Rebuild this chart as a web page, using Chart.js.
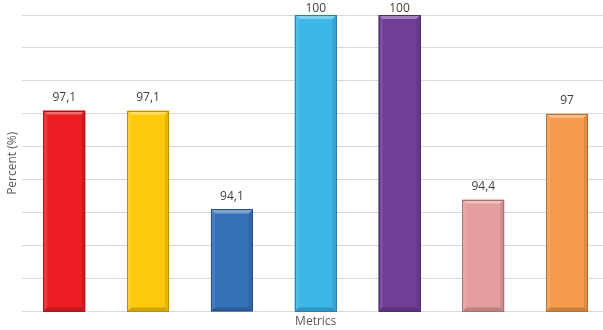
<!DOCTYPE html>
<html>
<head>
<meta charset="utf-8">
<script src="https://cdn.jsdelivr.net/npm/chart.js@4"></script>
<style>
html,body{margin:0;padding:0;background:#fff;overflow:hidden;}
#wrap{width:609px;height:330px;position:relative;}
</style>
</head>
<body>
<div id="wrap"><canvas id="c" width="609" height="330"></canvas></div>
<script>
const categories = ["M1","M2","M3","M4","M5","M6","M7"];
const values = [97.1, 97.1, 94.1, 100, 100, 94.4, 97];
const valueLabels = ["97,1","97,1","94,1","100","100","94,4","97"];
const barColors = ["#ED1D24","#FDC90C","#3670B8","#3DB6E8","#713E98","#E59E9E","#F59C4C"];
const yMin = 91, yMax = 100, yStep = 1;

function shade(hex, amt){
  const n = parseInt(hex.slice(1),16);
  let r=(n>>16)&255,g=(n>>8)&255,b=n&255;
  const f = v => Math.max(0,Math.min(255,Math.round(amt>0? v+(255-v)*amt : v*(1+amt))));
  return `rgb(${f(r)},${f(g)},${f(b)})`;
}

const bevel = {
  id:'bevel',
  afterDatasetsDraw(chart){
    const ctx = chart.ctx;
    const area = chart.chartArea;
    const meta = chart.getDatasetMeta(0);
    meta.data.forEach((bar,i)=>{
      const c = barColors[i];
      const x0 = bar.x - bar.width/2, x1 = bar.x + bar.width/2;
      const top = bar.y, bot = Math.min(bar.base, area.bottom);
      const d = 4;
      ctx.save();
      ctx.fillStyle = shade(c,0.35);
      ctx.beginPath();
      ctx.moveTo(x0,top);ctx.lineTo(x1,top);ctx.lineTo(x1-d,top+d);ctx.lineTo(x0+d,top+d);ctx.closePath();ctx.fill();
      ctx.fillStyle = shade(c,0.1);
      ctx.beginPath();
      ctx.moveTo(x0,top);ctx.lineTo(x0+d,top+d);ctx.lineTo(x0+d,bot-d);ctx.lineTo(x0,bot);ctx.closePath();ctx.fill();
      ctx.fillStyle = shade(c,-0.1);
      ctx.beginPath();
      ctx.moveTo(x1,top);ctx.lineTo(x1-d,top+d);ctx.lineTo(x1-d,bot-d);ctx.lineTo(x1,bot);ctx.closePath();ctx.fill();
      ctx.fillStyle = shade(c,-0.18);
      ctx.beginPath();
      ctx.moveTo(x0,bot);ctx.lineTo(x0+d,bot-d);ctx.lineTo(x1-d,bot-d);ctx.lineTo(x1,bot);ctx.closePath();ctx.fill();
      ctx.strokeStyle = shade(c,-0.28);
      ctx.lineWidth = 1;
      ctx.strokeRect(Math.round(x0)+0.5, Math.round(top)+0.5, Math.round(x1-x0)-1, Math.round(bot-top)-1);
      ctx.fillStyle = "#404040";
      ctx.font = "12px 'Open Sans', 'Liberation Sans', sans-serif";
      ctx.textAlign = "center";
      ctx.textBaseline = "middle";
      ctx.fillText(valueLabels[i], bar.x, Math.max(top - 13, 9));
      ctx.restore();
    });
  }
};

new Chart(document.getElementById('c'), {
  type:'bar',
  data:{
    labels:categories,
    datasets:[{data:values, backgroundColor:barColors, borderWidth:0, barPercentage:0.5, categoryPercentage:1}]
  },
  options:{
    responsive:false,
    animation:false,
    layout:{padding:{top:15,left:4,right:0,bottom:0}},
    plugins:{legend:{display:false},tooltip:{enabled:false}},
    scales:{
      x:{
        grid:{display:false,drawTicks:false},
        border:{display:false},
        ticks:{display:false,padding:0},
        title:{display:true,text:"Metrics",color:"#595959",font:{family:"'Open Sans', 'Liberation Sans', sans-serif",size:12},padding:{top:3,bottom:1}}
      },
      y:{
        min:yMin,max:yMax,
        ticks:{display:false,stepSize:yStep,padding:0},
        grid:{color:"#d9d9d9",lineWidth:1,drawTicks:false},
        border:{display:false},
        title:{display:true,text:"Percent (%)",color:"#595959",font:{family:"'Open Sans', 'Liberation Sans', sans-serif",size:12},padding:{top:1,bottom:3}}
      }
    }
  },
  plugins:[bevel]
});
</script>
</body>
</html>
